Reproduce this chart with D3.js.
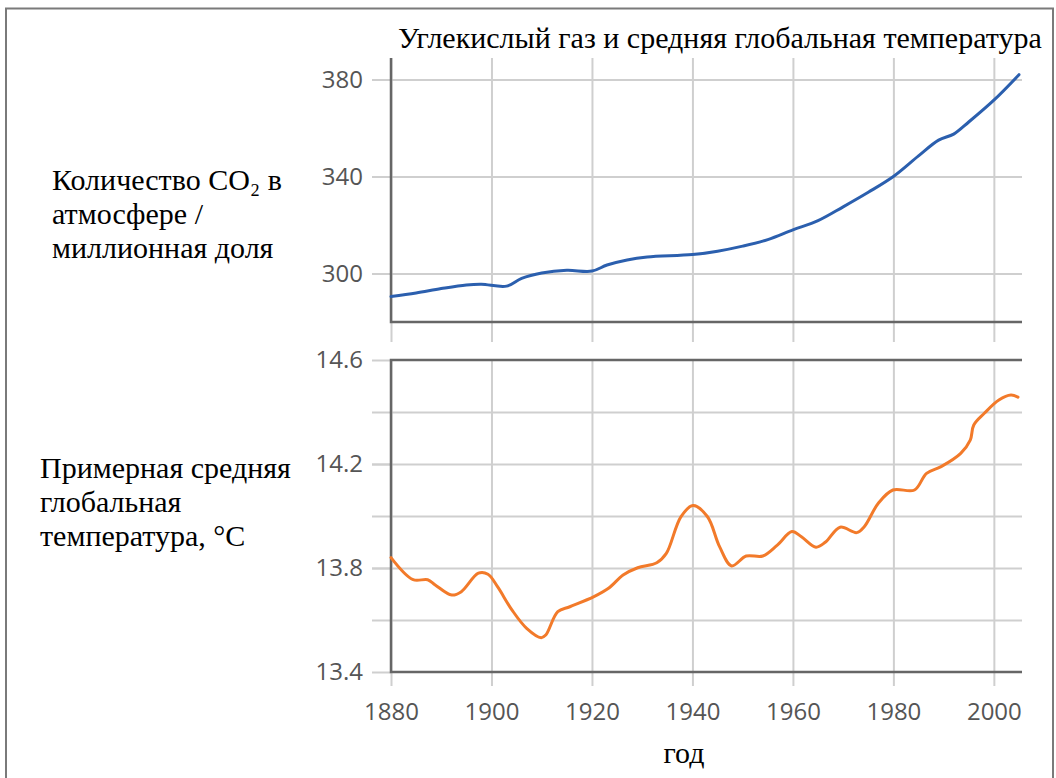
<!DOCTYPE html>
<html>
<head>
<meta charset="utf-8">
<script src="https://cdn.jsdelivr.net/npm/d3@7"></script>
<style>
    body { margin: 0; background: #fff; }
    svg { display: block; }
    .tick text { font-family: "Open Sans", sans-serif; fill: #555; }
    .lbl { font-family: "Liberation Serif", "Times New Roman", serif; fill: #000; }
</style>
</head>
<body>
<svg id="chart" width="1056" height="778"></svg>
<script>
// CO2 concentration, ppm
const co2Years = [1880, 1885, 1890, 1895, 1898, 1903, 1906, 1910, 1915, 1920, 1923, 1927, 1931, 1940, 1945, 1950, 1955, 1960, 1965, 1970, 1975, 1980, 1985, 1989, 1992, 1995, 2000, 2005];
const co2Values = [290.5, 292, 293.8, 295.3, 295.6, 294.8, 298, 300.2, 301.3, 301, 303.5, 305.6, 306.8, 307.8, 309.2, 311.3, 314, 318, 321.8, 327.5, 333.5, 340, 348.5, 355, 357.5, 362.5, 371.5, 382];

// global mean temperature, °C
const tempYears = [1880, 1884.4, 1887.3, 1888.8, 1892.1, 1894, 1897.4, 1899.3, 1901.2, 1904.1, 1907, 1909.9, 1910.8, 1913.2, 1915.6, 1920.4, 1923.3, 1926.2, 1929.1, 1932.9, 1934.8, 1937.7, 1940.1, 1943, 1945.4, 1947.8, 1950.7, 1954, 1956.9, 1959.8, 1961.7, 1964.6, 1966.5, 1969.4, 1972.7, 1974.2, 1977, 1979.9, 1984.2, 1986.6, 1989.5, 1993.4, 1995.3, 1996, 1998.1, 2001, 2003.4, 2004.8];
const tempValues = [13.84, 13.755, 13.755, 13.735, 13.696, 13.709, 13.78, 13.776, 13.728, 13.638, 13.568, 13.532, 13.542, 13.632, 13.651, 13.69, 13.722, 13.773, 13.801, 13.82, 13.856, 13.997, 14.04, 13.997, 13.882, 13.808, 13.846, 13.846, 13.888, 13.94, 13.92, 13.88, 13.9, 13.957, 13.936, 13.959, 14.049, 14.1, 14.1, 14.164, 14.19, 14.241, 14.292, 14.35, 14.395, 14.446, 14.465, 14.457];

const yearTicks = [1880, 1900, 1920, 1940, 1960, 1980, 2000];
const co2Ticks = [300, 340, 380];
const tempGrid = [13.6, 13.8, 14.0, 14.2, 14.4];
const tempLabels = [13.4, 13.8, 14.2, 14.6];

const titleText = "Углекислый газ и средняя глобальная температура";
const co2Label = ["Количество CO₂ в", "атмосфере /", "миллионная доля"];
const tempLabel = ["Примерная средняя", "глобальная", "температура, °C"];
const xLabel = "год";

const svg = d3.select('#chart');

// outer frame
svg.append('path')
    .attr('d', 'M6,790 V8.5 H1053 V790')
    .attr('fill', 'none')
    .attr('stroke', '#7a7a7a')
    .attr('stroke-width', 2);

const left = 391, right = 1022;
const x = d3.scaleLinear().domain([1880, 2005.6]).range([left, right]);

const top1 = 58, bot1 = 322;          // CO2 panel
const top2 = 360, bot2 = 672;         // temperature panel
const yCo2 = d3.scaleLinear().domain([280, 390]).range([bot1, 55.3]);
const yTemp = d3.scaleLinear().domain([13.4, 14.6]).range([bot2, top2]);

const gridColor = '#cfcfcf';
const axisColor = '#666';

function styleGrid(g) {
    g.select('.domain').remove();
    g.selectAll('.tick line').attr('stroke', gridColor).attr('stroke-width', 2);
}

// ---- CO2 panel ----
svg.append('g')
    .attr('transform', `translate(0,${bot1 + 20})`)
    .call(d3.axisBottom(x).tickValues(yearTicks).tickSize(-(bot1 + 20 - top1)).tickFormat(''))
    .call(styleGrid);

svg.append('g')
    .attr('transform', `translate(${left - 19},0)`)
    .call(d3.axisLeft(yCo2).tickValues(co2Ticks).tickSize(-(right - left + 19)).tickPadding(9))
    .call(styleGrid)
    .selectAll('text').style('font-size', '24px');

svg.append('path')
    .attr('d', `M${left},${top1} V${bot1} H${right}`)
    .attr('fill', 'none').attr('stroke', axisColor).attr('stroke-width', 2.5);

svg.append('path')
    .datum(co2Years.map((yr, i) => [yr, co2Values[i]]))
    .attr('fill', 'none')
    .attr('stroke', '#2b5fae')
    .attr('stroke-width', 3)
    .attr('stroke-linecap', 'round')
    .attr('d', d3.line().x(d => x(d[0])).y(d => yCo2(d[1])).curve(d3.curveCatmullRom.alpha(0.5)));

// ---- temperature panel ----
svg.append('g')
    .attr('transform', `translate(0,${bot2 + 14})`)
    .call(d3.axisBottom(x).tickValues(yearTicks).tickSize(-(bot2 + 14 - top2)).tickPadding(17).tickFormat(d3.format('d')))
    .call(styleGrid)
    .selectAll('text').style('font-size', '24px');

svg.append('g')
    .attr('transform', `translate(${left - 19},0)`)
    .call(d3.axisLeft(yTemp).tickValues(tempGrid).tickSize(-(right - left + 19)).tickFormat(''))
    .call(styleGrid);

svg.append('g')
    .attr('transform', `translate(${left - 19},0)`)
    .call(d3.axisLeft(yTemp).tickValues(tempLabels).tickSize(-19).tickPadding(9).tickFormat(d3.format('.1f')))
    .call(styleGrid)
    .selectAll('text').style('font-size', '24px');

svg.append('path')
    .attr('d', `M${right},${top2} H${left} V${bot2} H${right}`)
    .attr('fill', 'none').attr('stroke', axisColor).attr('stroke-width', 2.5);

svg.append('path')
    .datum(tempYears.map((yr, i) => [yr, tempValues[i]]))
    .attr('fill', 'none')
    .attr('stroke', '#f27a2a')
    .attr('stroke-width', 3)
    .attr('stroke-linecap', 'round')
    .attr('d', d3.line().x(d => x(d[0])).y(d => yTemp(d[1])).curve(d3.curveCatmullRom.alpha(0.5)));

// ---- texts ----
svg.append('text').attr('class', 'lbl')
    .attr('x', 398).attr('y', 48)
    .style('font-size', '30px')
    .text(titleText);

function multiLine(lines, x0, y0) {
    svg.append('g').selectAll('text')
        .data(lines).enter()
        .append('text').attr('class', 'lbl')
        .attr('x', x0).attr('y', (d, i) => y0 + i * 34)
        .style('font-size', '30px')
        .text(d => d);
}
multiLine(co2Label, 52, 190);
multiLine(tempLabel, 40, 478);

svg.append('text').attr('class', 'lbl')
    .attr('x', 684).attr('y', 763)
    .attr('text-anchor', 'middle')
    .style('font-size', '30px')
    .text(xLabel);
</script>
</body>
</html>
